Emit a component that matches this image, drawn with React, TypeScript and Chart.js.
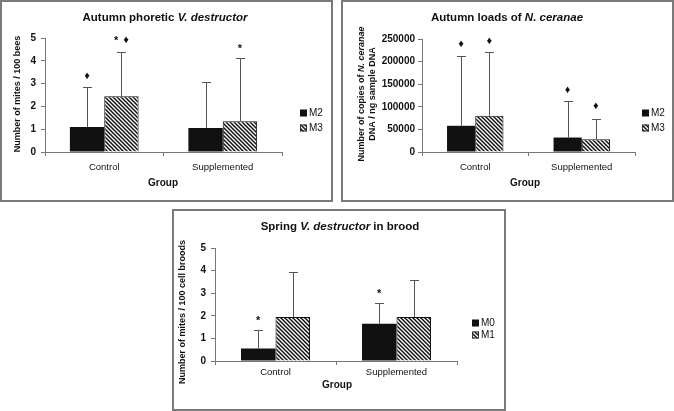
import { useEffect, useRef } from "react";
import { Chart, registerables } from "chart.js";

Chart.register(...registerables);

const FONT = "'Liberation Sans', Arial, 'DejaVu Sans', sans-serif";
Chart.defaults.font.family = FONT;
Chart.defaults.color = "#111";

// ---- data ----
const groups = ["Control", "Supplemented"];

// Autumn phoretic V. destructor (mites / 100 bees)
const phoreticM2 = [1.1, 1.05];
const phoreticM2Sd = [1.75, 2.0];
const phoreticM3 = [2.45, 1.35];
const phoreticM3Sd = [1.95, 2.77];
const phoreticM2Marks = ["\u2666", ""];
const phoreticM2MarkAt = [3.35, 0];
const phoreticM3Marks = ["* \u2666", "*"];
const phoreticM3MarkAt = [4.9, 4.57];
const phoreticTicks = [0, 1, 2, 3, 4, 5];

// Autumn loads of N. ceranae (copies / ng sample DNA)
const nosemaM2 = [58000, 32000];
const nosemaM2Sd = [155000, 81000];
const nosemaM3 = [80000, 28000];
const nosemaM3Sd = [141000, 46000];
const nosemaM2Marks = ["\u2666", "\u2666"];
const nosemaM2MarkAt = [238000, 138000];
const nosemaM3Marks = ["\u2666", "\u2666"];
const nosemaM3MarkAt = [246000, 102000];
const nosemaTicks = [0, 50000, 100000, 150000, 200000, 250000];

// Spring V. destructor in brood (mites / 100 cell broods)
const broodM0 = [0.55, 1.65];
const broodM0Sd = [0.82, 0.9];
const broodM1 = [1.95, 1.95];
const broodM1Sd = [1.98, 1.62];
const broodM0Marks = ["*", "*"];
const broodM0MarkAt = [1.8, 3.0];
const broodM1Marks = ["", ""];
const broodM1MarkAt = [0, 0];
const broodTicks = [0, 1, 2, 3, 4, 5];

type Seg = { t: string; i?: boolean };

function makeHatch(): CanvasPattern | string {
  const c = document.createElement("canvas");
  c.width = 4;
  c.height = 4;
  const g = c.getContext("2d");
  if (!g) return "#888";
  g.fillStyle = "#fff";
  g.fillRect(0, 0, 4, 4);
  g.strokeStyle = "#111";
  g.lineWidth = 1.5;
  g.beginPath();
  g.moveTo(-1, -1);
  g.lineTo(5, 5);
  g.moveTo(-1, 3);
  g.lineTo(1, 5);
  g.moveTo(3, -1);
  g.lineTo(5, 1);
  g.stroke();
  return g.createPattern(c, "repeat") || "#888";
}

function drawSegs(
  ctx: CanvasRenderingContext2D,
  segs: Seg[],
  cx: number,
  cy: number,
  size: number,
  bold: boolean
) {
  const fontFor = (s: Seg) =>
    `${s.i ? "italic " : ""}${bold ? "bold " : ""}${size}px ${FONT}`;
  let total = 0;
  for (const s of segs) {
    ctx.font = fontFor(s);
    total += ctx.measureText(s.t).width;
  }
  let x = cx - total / 2;
  ctx.textAlign = "left";
  ctx.textBaseline = "middle";
  for (const s of segs) {
    ctx.font = fontFor(s);
    ctx.fillText(s.t, x, cy);
    x += ctx.measureText(s.t).width;
  }
}

const figurePlugin = {
  id: "figureText",
  afterDatasetsDraw(chart: any) {
    const ctx: CanvasRenderingContext2D = chart.ctx;
    const y = chart.scales.y;
    ctx.save();
    chart.data.datasets.forEach((ds: any, di: number) => {
      const meta = chart.getDatasetMeta(di);
      meta.data.forEach((bar: any, i: number) => {
        // upper standard-deviation whisker
        const top = y.getPixelForValue(ds.data[i] + ds.sd[i]);
        const bx = Math.round(bar.x) + 0.5;
        ctx.strokeStyle = "#555";
        ctx.lineWidth = 1;
        ctx.beginPath();
        ctx.moveTo(bx, bar.y);
        ctx.lineTo(bx, Math.round(top) + 0.5);
        ctx.moveTo(bx - 4.5, Math.round(top) + 0.5);
        ctx.lineTo(bx + 4.5, Math.round(top) + 0.5);
        ctx.stroke();
        // significance marks
        const mark: string = ds.marks[i];
        if (mark) {
          ctx.fillStyle = "#111";
          ctx.textBaseline = "middle";
          const parts = mark.split(" ");
          ctx.font = `bold 11px ${FONT}`;
          const widths = parts.map((p) => ctx.measureText(p).width);
          const gap = 5;
          const total = widths.reduce((a, b) => a + b, 0) + gap * (parts.length - 1);
          let x = bar.x - total / 2;
          const my = y.getPixelForValue(ds.markAt[i]);
          ctx.textAlign = "left";
          parts.forEach((p, k) => {
            ctx.fillText(p, x, p === "*" ? my + 1 : my);
            x += widths[k] + gap;
          });
        }
      });
    });
    ctx.restore();
  },
  afterDraw(chart: any, _args: any, opts: any) {
    const ctx: CanvasRenderingContext2D = chart.ctx;
    ctx.save();
    ctx.fillStyle = "#111";
    drawSegs(ctx, opts.title, opts.titleX, opts.titleY, 11.5, true);
    // y axis title (rotated)
    opts.yTitle.forEach((line: Seg[], k: number) => {
      ctx.save();
      ctx.translate(opts.yTitleX + k * 11, opts.yTitleY);
      ctx.rotate(-Math.PI / 2);
      drawSegs(ctx, line, 0, 0, 9, true);
      ctx.restore();
    });
    drawSegs(ctx, [{ t: "Group" }], opts.xTitleX, opts.xTitleY, 10, true);
    // legend
    chart.data.datasets.forEach((ds: any, di: number) => {
      const ly = opts.legendY + di * opts.legendGap;
      ctx.fillStyle = ds.backgroundColor;
      ctx.fillRect(opts.legendX, ly - 3.5, 7, 7);
      if (di > 0) {
        ctx.strokeStyle = "#333";
        ctx.lineWidth = 1;
        ctx.strokeRect(opts.legendX + 0.5, ly - 3, 6, 6);
      }
      ctx.fillStyle = "#111";
      ctx.font = `10px ${FONT}`;
      ctx.textAlign = "left";
      ctx.textBaseline = "middle";
      ctx.fillText(ds.label, opts.legendX + 9, ly);
    });
    ctx.restore();
  },
};

type PanelSpec = {
  w: number;
  h: number;
  area: { l: number; r: number; t: number; b: number };
  yMax: number;
  yTicks: number[];
  tickPad: number;
  xPad: number;
  catPct: number;
  sets: {
    label: string;
    data: number[];
    sd: number[];
    marks: string[];
    markAt: number[];
    hatch: boolean;
  }[];
  text: any;
};

function ChartPanel({ spec, box }: { spec: PanelSpec; box: any }) {
  const ref = useRef<HTMLCanvasElement>(null);
  useEffect(() => {
    const hatch = makeHatch();
    const { area } = spec;
    const chart = new Chart(ref.current!, {
      type: "bar",
      data: {
        labels: groups,
        datasets: spec.sets.map((s) => ({
          label: s.label,
          data: s.data,
          sd: s.sd,
          marks: s.marks,
          markAt: s.markAt,
          backgroundColor: s.hatch ? hatch : "#111",
          borderColor: "#111",
          borderWidth: s.hatch ? 1 : 0,
          categoryPercentage: spec.catPct,
          barPercentage: 1,
        })) as any,
      },
      options: {
        animation: false,
        responsive: false,
        events: [],
        layout: {
          padding: { left: 0, top: area.t, right: spec.w - area.r, bottom: 0 },
        },
        plugins: {
          legend: { display: false },
          tooltip: { enabled: false },
          figureText: spec.text,
        } as any,
        scales: {
          x: {
            grid: {
              display: true,
              drawOnChartArea: false,
              drawTicks: true,
              tickLength: 4,
              color: "#777",
              offset: true,
            },
            border: { color: "#777" },
            ticks: { font: { size: 9.5 }, color: "#111", padding: spec.xPad },
            afterFit: (s: any) => {
              s.height = spec.h - area.b;
            },
          },
          y: {
            min: 0,
            max: spec.yMax,
            afterBuildTicks: (s: any) => {
              s.ticks = spec.yTicks.map((v) => ({ value: v }));
            },
            grid: {
              display: true,
              drawOnChartArea: false,
              drawTicks: true,
              tickLength: 4,
              color: "#777",
            },
            border: { color: "#777" },
            ticks: {
              font: { size: 10, weight: "bold" },
              color: "#111",
              padding: spec.tickPad,
              callback: (v: any) => String(v),
            },
            afterFit: (s: any) => {
              s.width = area.l;
            },
          },
        },
      },
      plugins: [figurePlugin as any],
    });
    return () => chart.destroy();
  }, []);
  return (
    <div
      style={{
        position: "absolute",
        boxSizing: "border-box",
        border: "2px solid #7a7a7a",
        background: "#fff",
        ...box,
      }}
    >
      <canvas
        ref={ref}
        width={spec.w}
        height={spec.h}
        style={{ display: "block", width: spec.w, height: spec.h }}
      />
    </div>
  );
}

const phoreticSpec: PanelSpec = {
  w: 329,
  h: 198,
  area: { l: 43, r: 280, t: 36, b: 150 },
  yMax: 5,
  yTicks: phoreticTicks,
  tickPad: 5,
  xPad: 6,
  catPct: 0.58,
  sets: [
    { label: "M2", data: phoreticM2, sd: phoreticM2Sd, marks: phoreticM2Marks, markAt: phoreticM2MarkAt, hatch: false },
    { label: "M3", data: phoreticM3, sd: phoreticM3Sd, marks: phoreticM3Marks, markAt: phoreticM3MarkAt, hatch: true },
  ],
  text: {
    title: [{ t: "Autumn phoretic " }, { t: "V. destructor", i: true }],
    titleX: 163,
    titleY: 16,
    yTitle: [[{ t: "Number of mites / 100 bees" }]],
    yTitleX: 16,
    yTitleY: 92,
    xTitleX: 161,
    xTitleY: 181,
    legendX: 298,
    legendY: 111,
    legendGap: 15,
  },
};

const nosemaSpec: PanelSpec = {
  w: 329,
  h: 198,
  area: { l: 79, r: 292, t: 37, b: 150 },
  yMax: 250000,
  yTicks: nosemaTicks,
  tickPad: 3,
  xPad: 6,
  catPct: 0.53,
  sets: [
    { label: "M2", data: nosemaM2, sd: nosemaM2Sd, marks: nosemaM2Marks, markAt: nosemaM2MarkAt, hatch: false },
    { label: "M3", data: nosemaM3, sd: nosemaM3Sd, marks: nosemaM3Marks, markAt: nosemaM3MarkAt, hatch: true },
  ],
  text: {
    title: [{ t: "Autumn loads of " }, { t: "N. ceranae", i: true }],
    titleX: 164,
    titleY: 16,
    yTitle: [
      [{ t: "Number of copies of " }, { t: "N. ceranae", i: true }],
      [{ t: "DNA / ng sample DNA" }],
    ],
    yTitleX: 19,
    yTitleY: 92,
    xTitleX: 182,
    xTitleY: 181,
    legendX: 299,
    legendY: 111,
    legendGap: 15,
  },
};

const broodSpec: PanelSpec = {
  w: 330,
  h: 198,
  area: { l: 41, r: 283, t: 37, b: 150 },
  yMax: 5,
  yTicks: broodTicks,
  tickPad: 5,
  xPad: 2,
  catPct: 0.57,
  sets: [
    { label: "M0", data: broodM0, sd: broodM0Sd, marks: broodM0Marks, markAt: broodM0MarkAt, hatch: false },
    { label: "M1", data: broodM1, sd: broodM1Sd, marks: broodM1Marks, markAt: broodM1MarkAt, hatch: true },
  ],
  text: {
    title: [{ t: "Spring " }, { t: "V. destructor", i: true }, { t: " in brood" }],
    titleX: 166,
    titleY: 16,
    yTitle: [[{ t: "Number of mites / 100 cell broods" }]],
    yTitleX: 9,
    yTitleY: 101,
    xTitleX: 163,
    xTitleY: 174,
    legendX: 298,
    legendY: 112,
    legendGap: 12,
  },
};

export default function App() {
  return (
    <div
      style={{
        position: "fixed",
        left: 0,
        top: 0,
        width: 674,
        height: 411,
        background: "#fff",
        overflow: "hidden",
      }}
    >
      <ChartPanel spec={phoreticSpec} box={{ left: 0, top: 0, width: 333, height: 202 }} />
      <ChartPanel spec={nosemaSpec} box={{ left: 341, top: 0, width: 333, height: 202 }} />
      <ChartPanel spec={broodSpec} box={{ left: 172, top: 209, width: 334, height: 202 }} />
    </div>
  );
}
